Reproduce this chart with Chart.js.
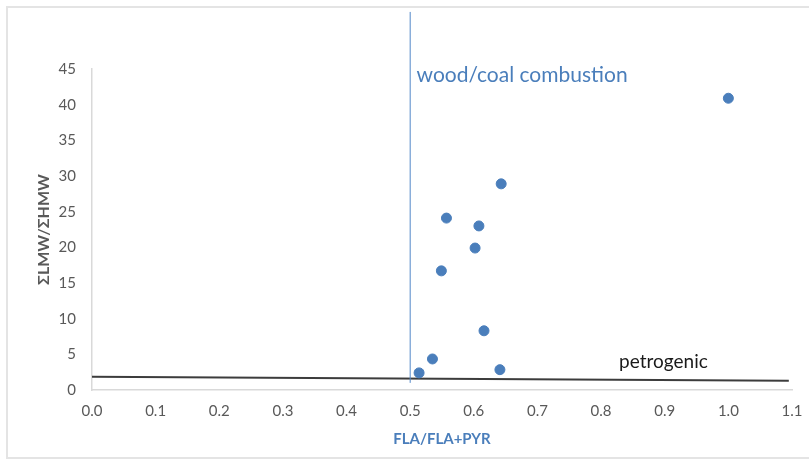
<!DOCTYPE html>
<html>
<head>
<meta charset="utf-8">
<script src="https://cdn.jsdelivr.net/npm/chart.js@4/dist/chart.umd.min.js"></script>
<style>
  html, body { margin: 0; padding: 0; background: #fff; overflow: hidden; }
  #wrap { position: relative; width: 809px; height: 464px; }
  #frame {
    position: absolute; left: 6px; top: 6px; width: 900px; height: 453px;
    border: 2px solid #e4e4e4; box-sizing: border-box;
  }
  #chart { position: absolute; left: 0; top: 0; }
</style>
</head>
<body>
<div id="wrap">
  <div id="frame"></div>
  <canvas id="chart" width="809" height="464"></canvas>
</div>
<script>
  // FLA/(FLA+PYR) against ΣLMW/ΣHMW for each sample
  const flaRatio = [1.00, 0.643, 0.557, 0.608, 0.602, 0.549, 0.616, 0.535, 0.514, 0.641];
  const lmwHmw   = [40.9, 28.9, 24.1, 23.0, 19.9, 16.7, 8.3, 4.35, 2.4, 2.85];

  // source boundary lines
  const combustionX = [0.5, 0.5];
  const combustionY = [1.0, 53];
  const petroX = [0, 1.095];
  const petroY = [1.85, 1.3];

  const xTicks = ['0.0', '0.1', '0.2', '0.3', '0.4', '0.5', '0.6', '0.7', '0.8', '0.9', '1.0', '1.1'];
  const yTicks = [0, 5, 10, 15, 20, 25, 30, 35, 40, 45];

  const BLUE = '#4a7ebb';
  const GREY = '#595959';
  const FONT = 'Lato, "Open Sans", sans-serif';

  const zip = (xs, ys) => xs.map((x, i) => ({ x: x, y: ys[i] }));

  // zone labels, placed in data units
  const zoneLabels = [
    { text: 'wood/coal combustion', x: 0.51, y: 44.1, color: BLUE, size: 21, align: 'left' },
    { text: 'petrogenic', x: 0.898, y: 3.9, color: '#1a1a1a', size: 19, align: 'center' }
  ];

  const labelPlugin = {
    id: 'zoneLabels',
    afterDatasetsDraw(chart) {
      const c = chart.ctx;
      const xs = chart.scales.x, ys = chart.scales.y;
      c.save();
      zoneLabels.forEach(l => {
        c.font = l.size + 'px ' + FONT;
        c.fillStyle = l.color;
        c.textAlign = l.align;
        c.textBaseline = 'middle';
        c.fillText(l.text, xs.getPixelForValue(l.x), ys.getPixelForValue(l.y));
      });
      c.restore();
    }
  };

  new Chart(document.getElementById('chart'), {
    type: 'scatter',
    data: {
      datasets: [
        {
          data: zip(flaRatio, lmwHmw),
          backgroundColor: BLUE,
          borderColor: BLUE,
          pointRadius: 5,
          pointHoverRadius: 5,
          order: 0
        },
        {
          type: 'line',
          data: zip(combustionX, combustionY),
          borderColor: '#5287c8',
          borderWidth: 1,
          pointRadius: 0,
          clip: false,
          order: 1
        },
        {
          type: 'line',
          data: zip(petroX, petroY),
          borderColor: '#3c3c3c',
          borderWidth: 2,
          pointRadius: 0,
          clip: false,
          order: 1
        }
      ]
    },
    options: {
      responsive: false,
      animation: false,
      events: [],
      layout: { padding: { top: 69, right: 0, left: 0, bottom: 0 } },
      plugins: { legend: { display: false }, tooltip: { enabled: false } },
      scales: {
        x: {
          type: 'linear',
          min: 0,
          max: 1.1,
          afterBuildTicks: s => { s.ticks = xTicks.map(t => ({ value: parseFloat(t) })); },
          afterFit: s => { s.height = 74; s.paddingRight = 17; s.paddingLeft = 0; },
          ticks: {
            callback: (v) => v.toFixed(1),
            color: GREY,
            font: { family: FONT, size: 15 },
            padding: 12,
            maxRotation: 0
          },
          grid: { display: false, drawTicks: false },
          border: { display: true, color: '#d9d9d9', width: 1.5 },
          title: {
            display: true,
            text: 'FLA/FLA+PYR',
            color: '#4a7ebb',
            font: { family: FONT, size: 15, weight: 'bold' },
            padding: { top: 0, bottom: 16 }
          }
        },
        y: {
          type: 'linear',
          min: 0,
          max: 45,
          afterBuildTicks: s => { s.ticks = yTicks.map(v => ({ value: v })); },
          afterFit: s => { s.width = 92; },
          ticks: {
            color: GREY,
            font: { family: FONT, size: 15 },
            padding: 16
          },
          grid: { display: false, drawTicks: false },
          border: { display: true, color: '#d9d9d9', width: 1.5 },
          title: {
            display: true,
            text: 'ΣLMW/ΣHMW',
            color: GREY,
            font: { family: FONT, size: 16, weight: 'bold' },
            padding: { top: 34, bottom: 0 }
          }
        }
      }
    },
    plugins: [labelPlugin]
  });
</script>
</body>
</html>
